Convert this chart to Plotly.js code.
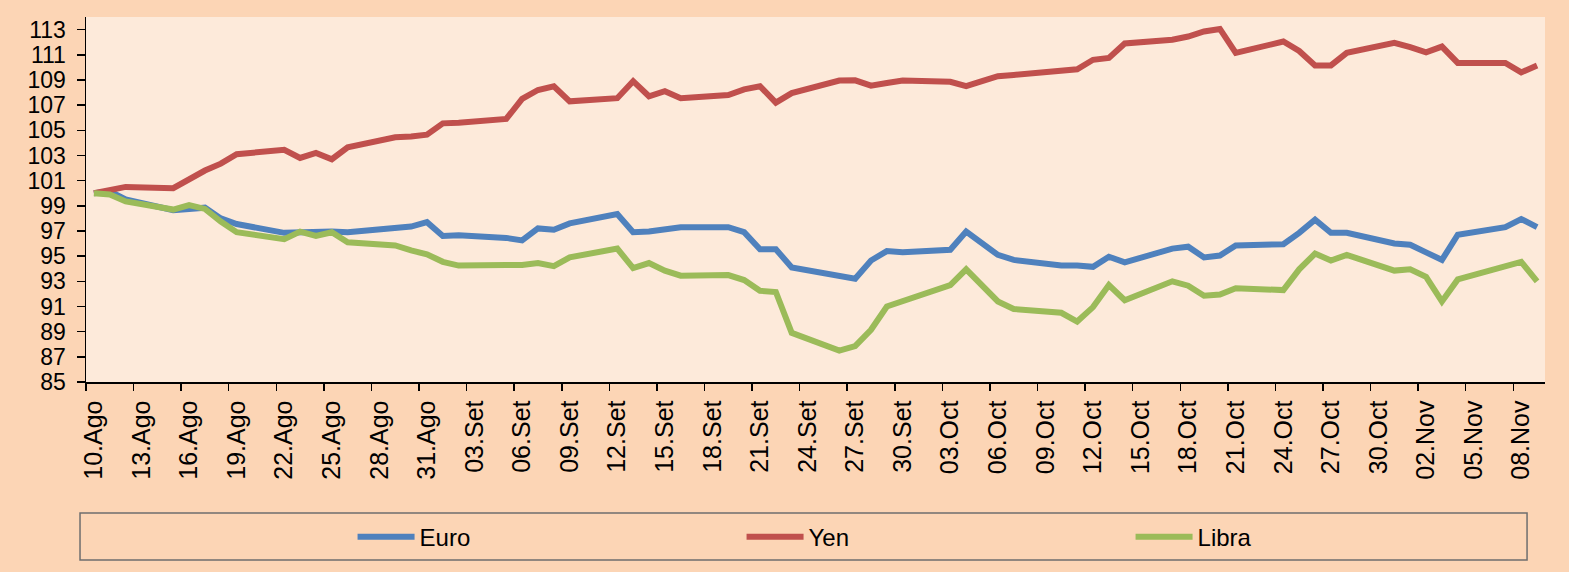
<!DOCTYPE html>
<html>
<head>
<meta charset="utf-8">
<script src="https://cdn.plot.ly/plotly-3.0.1.min.js"></script>
<style>
  html, body { margin: 0; padding: 0; background: #FCD5B5; }
  #chart { width: 1569px; height: 572px; }
</style>
</head>
<body>
<div id="chart"></div>
<script>
// Business days (2022)
var dates = [
  '2022-08-10','2022-08-11','2022-08-12','2022-08-15','2022-08-16','2022-08-17','2022-08-18','2022-08-19',
  '2022-08-22','2022-08-23','2022-08-24','2022-08-25','2022-08-26','2022-08-29','2022-08-30','2022-08-31',
  '2022-09-01','2022-09-02','2022-09-05','2022-09-06','2022-09-07','2022-09-08','2022-09-09',
  '2022-09-12','2022-09-13','2022-09-14','2022-09-15','2022-09-16','2022-09-19','2022-09-20',
  '2022-09-21','2022-09-22','2022-09-23','2022-09-26','2022-09-27','2022-09-28','2022-09-29','2022-09-30',
  '2022-10-03','2022-10-04','2022-10-05','2022-10-06','2022-10-07','2022-10-10','2022-10-11',
  '2022-10-12','2022-10-13','2022-10-14','2022-10-17','2022-10-18','2022-10-19','2022-10-20',
  '2022-10-21','2022-10-24','2022-10-25','2022-10-26','2022-10-27','2022-10-28','2022-10-31',
  '2022-11-01','2022-11-02','2022-11-03','2022-11-04','2022-11-07','2022-11-08','2022-11-09'
];

var euro = [
  100.0, 100.15, 99.5, 98.65, 98.75, 98.85, 98.0, 97.55,
  96.85, 96.9, 96.9, 96.95, 96.9, 97.15, 97.35, 97.7,
  96.6, 96.65, 96.45, 96.25, 97.2, 97.1, 97.6,
  98.35, 96.9, 96.95, 97.15, 97.3, 97.3, 96.9,
  95.55, 95.55, 94.1, 93.4, 93.2, 94.65, 95.4, 95.3,
  95.5, 96.95, 96.0, 95.1, 94.7, 94.25, 94.25,
  94.15, 94.95, 94.5, 95.6, 95.75, 94.9, 95.05,
  95.85, 95.95, 96.85, 97.9, 96.85, 96.85, 96.0,
  95.9, 95.3, 94.7, 96.7, 97.3, 97.95, 97.3
];

var yen = [
  100.0, 100.25, 100.5, 100.4, 101.1, 101.8, 102.35, 103.1,
  103.45, 102.8, 103.2, 102.7, 103.65, 104.45, 104.5, 104.65,
  105.55, 105.6, 105.9, 107.5, 108.2, 108.5, 107.3,
  107.55, 108.9, 107.7, 108.1, 107.55, 107.8, 108.25,
  108.5, 107.2, 107.95, 108.95, 108.97, 108.55, 108.75, 108.95,
  108.85, 108.5, 108.9, 109.3, 109.4, 109.75, 109.85,
  110.6, 110.75, 111.9, 112.2, 112.45, 112.85, 113.05,
  111.15, 112.05, 111.3, 110.15, 110.15, 111.15, 111.95,
  111.6, 111.2, 111.65, 110.35, 110.35, 109.6, 110.15
];

var libra = [
  100.0, 99.9, 99.35, 98.7, 99.05, 98.75, 97.75, 96.9,
  96.35, 96.95, 96.6, 96.9, 96.1, 95.85, 95.45, 95.15,
  94.55, 94.25, 94.3, 94.3, 94.45, 94.2, 94.9,
  95.6, 94.05, 94.45, 93.85, 93.45, 93.5, 93.1,
  92.25, 92.15, 88.9, 87.5, 87.85, 89.15, 91.0, 91.4,
  92.7, 93.95, 92.7, 91.4, 90.8, 90.5, 89.8,
  90.95, 92.7, 91.5, 93.0, 92.65, 91.85, 91.95,
  92.45, 92.3, 93.95, 95.2, 94.65, 95.1, 93.85,
  93.95, 93.35, 91.4, 93.15, 94.2, 94.55, 93.0
];

var seriesNames = ['Euro', 'Yen', 'Libra'];

var tickDates = [
  '2022-08-10','2022-08-13','2022-08-16','2022-08-19','2022-08-22','2022-08-25','2022-08-28','2022-08-31',
  '2022-09-03','2022-09-06','2022-09-09','2022-09-12','2022-09-15','2022-09-18','2022-09-21','2022-09-24',
  '2022-09-27','2022-09-30','2022-10-03','2022-10-06','2022-10-09','2022-10-12','2022-10-15','2022-10-18',
  '2022-10-21','2022-10-24','2022-10-27','2022-10-30','2022-11-02','2022-11-05','2022-11-08'
];
var tickLabels = [
  '10.Ago','13.Ago','16.Ago','19.Ago','22.Ago','25.Ago','28.Ago','31.Ago',
  '03.Set','06.Set','09.Set','12.Set','15.Set','18.Set','21.Set','24.Set',
  '27.Set','30.Set','03.Oct','06.Oct','09.Oct','12.Oct','15.Oct','18.Oct',
  '21.Oct','24.Oct','27.Oct','30.Oct','02.Nov','05.Nov','08.Nov'
];

// points sit in the middle of each day slot
var xs = dates.map(function (d) { return d + ' 12:00'; });

var colors = ['#4F81BD', '#C0504D', '#9BBB59'];
var values = [euro, yen, libra];

var traces = values.map(function (v, i) {
  return {
    type: 'scatter',
    mode: 'lines',
    name: seriesNames[i],
    x: xs,
    y: v,
    line: { color: colors[i], width: 6 }
  };
});

var layout = {
  width: 1569,
  height: 572,
  paper_bgcolor: '#FCD5B5',
  plot_bgcolor: '#FDEADA',
  margin: { l: 86, r: 24, t: 17, b: 190, pad: 0, autoexpand: false },
  font: { family: 'Liberation Sans, Arial, sans-serif', size: 24, color: '#000000' },
  showlegend: true,
  legend: {
    orientation: 'h',
    x: 0.1827, xanchor: 'left',
    y: -0.425, yanchor: 'middle',
    bgcolor: 'rgba(0,0,0,0)',
    borderwidth: 0,
    entrywidth: 317,
    entrywidthmode: 'pixels',
    itemwidth: 57,
    font: { size: 24 }
  },
  xaxis: {
    type: 'date',
    range: ['2022-08-10', '2022-11-10'],
    tickvals: tickDates,
    ticktext: tickLabels,
    tickangle: -90,
    tickfont: { size: 25 },
    ticklabelshift: 8,
    ticks: 'outside',
    ticklen: 7,
    tickwidth: 1.5,
    tickcolor: '#000',
    showline: true,
    linecolor: '#000',
    linewidth: 1.5,
    showgrid: false,
    zeroline: false,
    automargin: false,
    fixedrange: true
  },
  yaxis: {
    range: [85, 114],
    tick0: 85,
    dtick: 2,
    ticks: 'outside',
    ticklen: 8,
    tickwidth: 1.5,
    tickcolor: '#000',
    tickfont: { size: 23 },
    showline: true,
    linecolor: '#000',
    linewidth: 1.5,
    showgrid: false,
    zeroline: false,
    automargin: false,
    ticklabelstandoff: 6,
    fixedrange: true
  },
  shapes: [{
    type: 'rect',
    xref: 'paper', yref: 'paper',
    x0: -0.0041, x1: 0.9877,
    y0: -0.3589, y1: -0.4877,
    line: { color: '#6E6E6E', width: 1.5 },
    fillcolor: 'rgba(0,0,0,0)'
  }]
};

Plotly.newPlot('chart', traces, layout, { displayModeBar: false, staticPlot: true });
</script>
</body>
</html>
